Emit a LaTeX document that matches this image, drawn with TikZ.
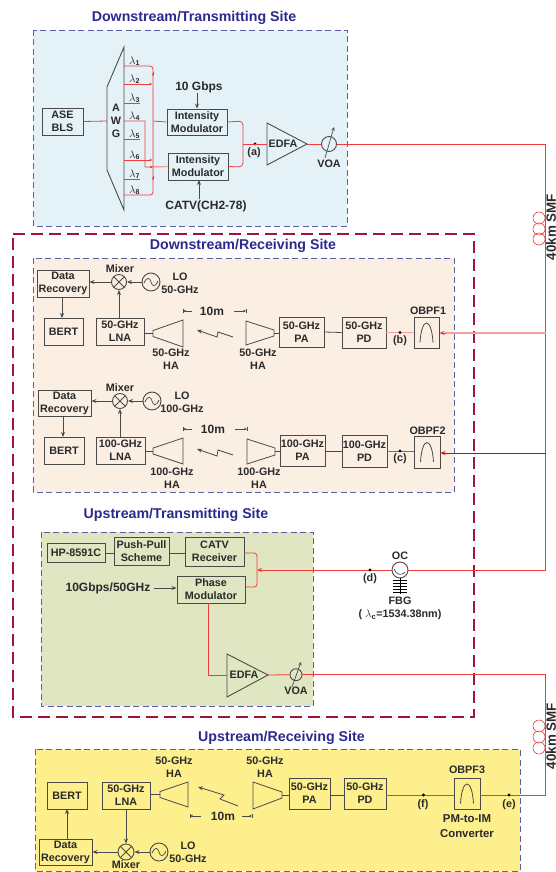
\documentclass[tikz,border=0pt]{standalone}
\usepackage{fontspec}
\setmainfont{Liberation Sans}
\usetikzlibrary{arrows.meta,calc}
\definecolor{bluefill}{HTML}{E4F2F8}
\definecolor{peachfill}{HTML}{FBEFE4}
\definecolor{greenfill}{HTML}{DFE6C1}
\definecolor{yellowfill}{HTML}{FDF08C}
\definecolor{dashblue}{HTML}{5A5FA8}
\definecolor{darkred}{HTML}{A3123F}
\definecolor{titleblue}{HTML}{2B2A8C}
\definecolor{redline}{HTML}{EE3B3B}
\definecolor{paleline}{HTML}{F5A0A0}
\definecolor{edge}{HTML}{4A4A4A}
\definecolor{ink}{HTML}{2A2A2A}
\tikzset{
  x=1pt,y=-1pt,
  site/.style={draw=dashblue,line width=0.9pt,dash pattern=on 6pt off 3.5pt},
  outer/.style={draw=darkred,line width=1.4pt,dash pattern=on 12pt off 6pt},
  sitetitle/.style={font=\fontsize{14.2}{16}\selectfont\bfseries,text=titleblue,inner sep=0pt},
  lbl/.style={font=\fontsize{10.8}{13}\selectfont\bfseries,text=ink,align=center,inner sep=0pt},
  biglbl/.style={font=\fontsize{12}{14}\selectfont\bfseries,text=ink,align=center,inner sep=0pt},
  comp/.style={draw=edge,line width=0.9pt,inner sep=0pt,align=center,font=\fontsize{10.8}{13}\selectfont\bfseries,text=ink},
  wire/.style={draw=edge,line width=0.8pt},
  arr/.style={draw=edge,line width=0.8pt,-{Stealth[length=5pt,width=4pt]}},
  fib/.style={draw=redline,line width=0.8pt},
  fibpale/.style={draw=paleline,line width=1.3pt},
  fibarr/.style={draw=redline,line width=0.8pt,-{Stealth[length=5pt,width=4pt]}},
  tick/.style={draw=redline,line width=0.5pt,-{Stealth[length=2.5pt,width=2.5pt]}},
  dotn/.style={circle,fill=black,inner sep=0pt,minimum size=3.2pt},
  roundc/.style={circle,draw=edge,line width=0.9pt,inner sep=0pt},
  coil/.style={circle,draw=redline,line width=0.6pt,inner sep=0pt,minimum size=12pt},
  lam/.style={inner sep=0pt,text=ink,font=\fontsize{11}{12}\selectfont},
  smflbl/.style={inner sep=0pt,rotate=90,text=ink,font=\fontsize{13.4}{14}\selectfont\bfseries},
}
% #1 name, #2-#5 x1 y1 x2 y2, #6 text
\newcommand{\compbox}[6]{\node[comp,minimum width={(#4-#2)*1pt},minimum height={(#5-#3)*1pt}] (#1) at ({(#2+#4)/2},{(#3+#5)/2}) {#6};}
% amplifier horn pointing left: #1 name, #2 x wide, #3 x narrow, #4 y centre, #5 half height
\newcommand{\horn}[5]{%
  \draw[wire,fill=none] (#2,#4-#5)--(#3,#4-3)--(#3,#4+3)--(#2,#4+#5)--cycle;
  \coordinate (#1) at (#3,#4);}
% filter
\newcommand{\filtersym}[1]{\draw[edge,line width=0.8pt,shift={(#1.center)}] (-6.5,10) .. controls (-5,-16) and (5,-16) .. (6.5,10);}
% mixer: name
\newcommand{\mixersym}[1]{\draw[edge,line width=0.8pt] (#1.45)--(#1.225) (#1.135)--(#1.315);}
% LO sine
\newcommand{\losym}[1]{\draw[edge,line width=0.7pt,shift={(#1.center)}] (-7,1) .. controls (-4,-6) and (-1,-4) .. (0,0) .. controls (1,4) and (4,6) .. (7,-1);}
% 10m dimension: #1 id, #2 x left, #3 x left end, #4 x right start, #5 x right, #6 y, #7 text centre x
\newcommand{\tenm}[7]{%
  \node[biglbl] (#1) at (#7,#6) {10m};
  \draw[edge,line width=0.7pt,-{Stealth[length=3pt,width=2.6pt]}] (#3,#6)--(#2,#6);
  \draw[edge,line width=0.7pt,-{Stealth[length=3pt,width=2.6pt]}] (#4,#6)--(#5,#6);
  \draw[edge,line width=0.7pt] (#2,#6-2)--(#2,#6+2) (#5,#6-2)--(#5,#6+2);}
\begin{document}
\begin{tikzpicture}
\useasboundingbox (0,0) rectangle (556,872);
% ---- site panels
\path[site,fill=bluefill] (33,30) rectangle (347,226);
\path[site,fill=peachfill] (33,258) rectangle (454,492);
\path[site,fill=greenfill] (41,532) rectangle (313,706);
\path[site,fill=yellowfill] (35,749) rectangle (520,871);
\path[outer] (13,234) -- (474,234) -- (474,717) -- (13,717) -- cycle;
\node[sitetitle] (t1) at (194,18) {Downstream/Transmitting Site};
\node[sitetitle] (t2) at (243,246) {Downstream/Receiving Site};
\node[sitetitle] (t3) at (176,515) {Upstream/Transmitting Site};
\node[sitetitle] (t4) at (281.5,738) {Upstream/Receiving Site};

% ---- Downstream transmitting
\compbox{ase}{42}{108}{83}{135}{ASE\\BLS}
\draw[edge,line width=0.9pt] (124,47)--(107,87)--(107,170)--(124,210)--cycle;
\node[lbl] (awg) at (116,121) {A\\W\\G};
\coordinate (awgin) at (107,121);
\foreach \n/\yy in {1/66,2/84,3/103,4/121,5/139,6/160,7/179,8/195}{
  \coordinate (l\n) at (124,\yy);
  \node[lam,anchor=south west] (lt\n) at (129,\yy) {$\lambda$\fontsize{7}{8}\selectfont\bfseries\raisebox{-1pt}{\n}};
}
\foreach \n in {3,5,7}{\draw[fib,line width=0.6pt] (l\n)-- ++(16,0);}
\compbox{im1}{167}{109}{227}{135}{Intensity\\Modulator}
\compbox{im2}{168}{153}{228}{180}{Intensity\\Modulator}
\coordinate (jbr) at (153,121);
\draw[fib] (ase.east)--(awgin);
\draw[fib,rounded corners=3pt] (l1)--(153,66)--(153,121);
\draw[fib,rounded corners=3pt] (l8)--(153,195)--(153,121);
\draw[fib] (l2)--(150,84) (l6)--(150,160);
\draw[fib] (jbr)--(im1.west);
\draw[fib] (l4)--(145,121)--(145,167)--(im2.west);
\draw[fibpale,line width=1pt] (153,90)--(153,180);
\draw[fibpale,line width=1pt] (150,167)--(im2.west);
\draw[tick] (153,72)--(153,76);
\draw[tick] (149,84)--(152,84);
\draw[tick] (149,160)--(152,160);
\draw[tick] (150,167)--(153,167);
\draw[tick] (153,176)--(153,180);
\node[biglbl] (g10) at (199,87) {10 Gbps};
\draw[arr] (g10.south -| im1.north)--(im1.north);
\node[biglbl] (catv) at (206,206) {CATV(CH2-78)};
\draw[arr] (199,199)--(199,180);
\coordinate (jout) at (243,144);
\node[dotn] (pa) at (255,144) {};
\node[lbl] at (254,152.5) {(a)};
\draw[fib,rounded corners=4pt] (im1.east)--(243,121)--(243,167)--(im2.east);
\draw[edge,line width=0.9pt] (267,123)--(307,144)--(267,165)--cycle;
\coordinate (edfa1in) at (267,144);
\coordinate (edfa1out) at (307,144);
\node[lbl] (edfa1) at (283,144) {EDFA};
\draw[fib] (jout)--(edfa1in);
\node[roundc,minimum size=15pt] (voa1) at (329,144) {};
\draw[fib] (edfa1out)--(voa1.west);
\draw[edge,line width=0.7pt,-{Stealth[length=3.5pt,width=3.5pt,open]}] (325,158)--(334,127);
\node[lbl] at (329,164) {VOA};

% ---- main fibre
\coordinate (c1) at (545.7,144);
\coordinate (c2) at (545.7,570);
\coordinate (c3) at (545.7,674.7);
\coordinate (c4) at (545.7,795);
\draw[fibpale,line width=1pt] (voa1.east)--(c1);
\draw[fib] (voa1.east)--(c1);
\draw[fib] (c1)--(c2);
\node[coil] (s1) at (539,218) {};
\node[coil] (s2) at (539,229) {};
\node[coil] (s3) at (539,239) {};
\node[smflbl] (smf1) at (551.2,227) {40km SMF};
\node[coil] (s4) at (539,726) {};
\node[coil] (s5) at (539,737) {};
\node[coil] (s6) at (539,748) {};
\node[smflbl] (smf2) at (551.2,736) {40km SMF};

% ---- Downstream receiving row 1
\compbox{dr1}{37}{270}{89}{297}{Data\\Recovery}
\compbox{bert1}{44}{318}{83}{345}{BERT}
\node[roundc,minimum size=15pt] (mx1) at (119,282) {}; \mixersym{mx1}
\node[lbl] at (120,269) {Mixer};
\node[roundc,minimum size=18pt] (lo1) at (151,282) {}; \losym{lo1}
\node[lbl] at (180,283.5) {LO\\50-GHz};
\compbox{lna1}{96}{318}{144}{345}{50-GHz\\LNA}
\draw[arr] (lo1)--(mx1);
\draw[arr] (mx1)--(dr1.east |- mx1);
\draw[arr] (mx1.south |- lna1.north)--(mx1.south);
\draw[arr] (62,297)--(62,318);
\horn{hl1}{183}{153}{333.5}{13.5}
\draw[wire] (lna1.east |- hl1)--(hl1);
\node[lbl] at (171,359.5) {50-GHz\\HA};
\tenm{ta}{183}{192}{234}{246}{311}{212}
\draw[arr] (233,337)--(218,332)--(217,337)--(197,330);
\compbox{pa1}{279}{317}{324}{347}{50-GHz\\PA}
\compbox{pd1}{342}{317}{386}{348}{50-GHz\\PD}
\compbox{ob1}{414}{317}{439}{348}{}
\filtersym{ob1}
\node[lbl] at (428,311) {OBPF1};
\draw[wire] (246,321)--(274,330)--(274,336)--(246,345)--cycle;
\coordinate (hr1) at (274,333);
\draw[wire] (hr1)--(pa1.west |- hr1);
\node[lbl] at (258,359.5) {50-GHz\\HA};
\draw[wire] (pa1.east)--(pd1.west);
\draw[fibpale] (pd1.east)--(ob1.west);
\node[dotn] (pb) at (400,332.5) {};
\node[lbl] at (400,340.5) {(b)};
\coordinate (c5) at (545.7,333);
\draw[fibpale] (c5)--(445,333);
\draw[fibarr] (446,333)--(439.5,333);

% ---- row 2
\compbox{dr2}{38}{390}{91}{416}{Data\\Recovery}
\compbox{bert2}{44}{437}{84}{464}{BERT}
\node[roundc,minimum size=15pt] (mx2) at (120,401) {}; \mixersym{mx2}
\node[lbl] at (120,388) {Mixer};
\node[roundc,minimum size=18pt] (lo2) at (152,401) {}; \losym{lo2}
\node[lbl] at (182,402.5) {LO\\100-GHz};
\compbox{lna2}{96}{437}{145}{464}{100-GHz\\LNA}
\draw[arr] (lo2)--(mx2);
\draw[arr] (mx2)--(dr2.east |- mx2);
\draw[arr] (mx2.south |- lna2.north)--(mx2.south);
\draw[arr] (63,416)--(63,437);
\horn{hl2}{183}{153}{451}{13}
\draw[wire] (lna2.east |- hl2)--(hl2);
\node[lbl] at (172,478.5) {100-GHz\\HA};
\tenm{tb}{183}{192}{235}{247}{429}{213}
\draw[arr] (233,455)--(218,450)--(217,456)--(197,449);
\compbox{pa2}{280}{435}{325}{466}{100-GHz\\PA}
\compbox{pd2}{342}{435}{387}{467}{100-GHz\\PD}
\compbox{ob2}{414}{436}{440}{468}{}
\filtersym{ob2}
\node[lbl] at (427.5,431) {OBPF2};
\draw[wire] (247,439)--(275,448)--(275,455)--(247,464)--cycle;
\coordinate (hr2) at (275,451.5);
\draw[wire] (hr2)--(pa2.west |- hr2);
\node[lbl] at (259,478.5) {100-GHz\\HA};
\draw[wire] (pa2.east |- hr2)--(pd2.west |- hr2);
\draw[fib] (pd2.east |- hr2)--(ob2.west |- hr2);
\node[dotn] (pc) at (400,451) {};
\node[lbl] at (400,459) {(c)};
\coordinate (c6) at (545.7,453);
\draw[draw=red!90!black,line width=0.9pt,-{Stealth[length=5pt,width=4pt]}] (c6)--(ob2.east |- c6);

% ---- Upstream transmitting
\compbox{hp}{47}{543}{105}{562}{HP-8591C}
\compbox{pp}{114}{537}{169}{565}{Push-Pull\\Scheme}
\compbox{cr}{185}{537}{244}{566}{CATV\\Receiver}
\compbox{pm}{177}{576}{245}{603}{Phase\\Modulator}
\draw[wire] (hp.east |- 0,553)--(pp.west |- 0,553);
\draw[wire] (pp.east |- 0,553)--(cr.west |- 0,553);
\node[biglbl] (rf) at (108,588) {10Gbps/50GHz};
\draw[arr] (154,588)--(pm.west |- 0,588);
\coordinate (jup) at (257,570);
\draw[fib,rounded corners=3pt] (cr.east |- 0,553)--(257,553)--(257,587)--(pm.east |- 0,587);
\node[roundc,minimum size=16pt] (oc) at (400,570) {};
\draw[edge,line width=0.7pt] (394,569) .. controls (396,575) and (402,576) .. (405,572);
\draw[fibpale,line width=1pt] (oc.west)--(jup);
\draw[fib] (c2)--(oc.east);
\draw[fibarr] (oc.west)--(jup);
\node[dotn] (pd) at (370,570) {};
\node[lbl] at (370,579) {(d)};
\node[lbl] at (400,556) {OC};
\draw[black,line width=0.5pt] (oc.south)--(400,594);
\foreach \yy in {580,583,586,589,592}{\draw[black,line width=0.5pt] (393,\yy)--(407,\yy);}
\node[lbl] at (400,601) {FBG};
\node[lbl] at (400,615) {( $\lambda$\textsubscript{c}=1534.38nm)};
\draw[edge,line width=0.9pt] (227,654)--(268,675)--(227,697)--cycle;
\coordinate (e2in) at (227,675);
\coordinate (e2out) at (268,675);
\node[lbl] (edfa2) at (244,675) {EDFA};
\draw[fib] (pm.south -| 208,603)--(208,675)--(e2in);
\node[roundc,minimum size=12pt] (voa2) at (296,674.7) {};
\draw[fib] (e2out)--(voa2.west);
\draw[edge,line width=0.7pt,-{Stealth[length=3.5pt,width=3.5pt,open]}] (292,687)--(301,662);
\node[lbl] at (296,691) {VOA};
\draw[fibpale,line width=1pt] (voa2.east)--(c3);
\draw[fib] (voa2.east)--(c3)--(c4);

% ---- Upstream receiving
\compbox{bert3}{47}{782}{87}{809}{BERT}
\compbox{lna3}{102}{782}{150}{809}{50-GHz\\LNA}
\compbox{dr3}{39}{839}{92}{865}{Data\\Recovery}
\node[roundc,minimum size=16pt] (mx3) at (126,852) {}; \mixersym{mx3}
\node[lbl] at (126,865) {Mixer};
\node[roundc,minimum size=18pt] (lo3) at (159,852) {}; \losym{lo3}
\node[lbl] at (188,852.5) {LO\\50-GHz};
\draw[arr] (lo3)--(mx3);
\draw[arr] (mx3)--(dr3.east |- mx3);
\draw[arr] (mx3.north |- lna3.south)--(mx3.north);
\draw[arr] (67,839)--(67,809);
\horn{hl3}{188}{160}{794.5}{12.5}
\draw[wire] (lna3.east |- hl3)--(hl3);
\node[lbl] at (174,767.5) {50-GHz\\HA};
\draw[arr] (238,806)--(220,799)--(224,795)--(198,787);
\tenm{tc}{190}{201}{242}{252}{816}{223}
\compbox{pa3}{289}{778}{330}{809}{50-GHz\\PA}
\compbox{pd3}{344}{778}{386}{809}{50-GHz\\PD}
\compbox{ob3}{454}{778}{480}{809}{}
\filtersym{ob3}
\draw[wire] (253,782)--(282,792)--(282,798)--(253,809)--cycle;
\coordinate (hr3) at (282,795);
\draw[wire] (hr3)--(pa3.west |- hr3);
\node[lbl] at (265,767.5) {50-GHz\\HA};
\draw[wire] (pa3.east |- hr3)--(pd3.west |- hr3);
\draw[fib] (pd3.east |- hr3)--(ob3.west |- hr3);
\draw[fib] (ob3.east |- hr3)--(c4);
\node[dotn] (pf) at (423.5,795) {};
\node[lbl] at (423,805) {(f)};
\node[dotn] (pe) at (509,795) {};
\node[lbl] at (509,805) {(e)};
\node[lbl] at (467,770) {OBPF3};
\node[lbl,font=\fontsize{11.4}{14.5}\selectfont\bfseries] at (467,826) {PM-to-IM\\Converter};
\end{tikzpicture}
\end{document}
